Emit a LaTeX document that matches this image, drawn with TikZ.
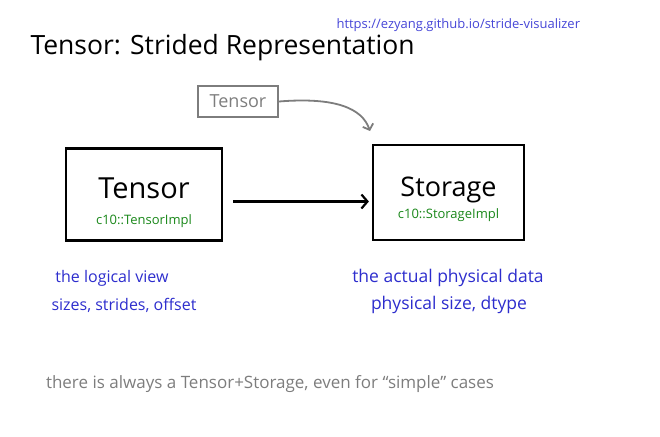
\documentclass[tikz,border=0pt]{standalone}
\usepackage{fontspec}
\setmainfont{Open Sans}
\usetikzlibrary{positioning,arrows.meta}
\definecolor{inkblue}{RGB}{45,45,205}
\definecolor{linkblue}{RGB}{70,70,215}
\definecolor{implgreen}{RGB}{25,135,25}
\definecolor{pencil}{RGB}{125,125,125}
\begin{document}
\begin{tikzpicture}[x=1pt, y=-1pt,
    objbox/.style={draw, line width=2.2pt, minimum width=156pt, minimum height=92pt, align=center},
    note/.style={font=\fontsize{16}{19}\selectfont, text=inkblue, align=center}]
    \useasboundingbox (0,0) rectangle (660,436);

    % Titre et lien
    \node[anchor=west, font=\fontsize{26.5}{30}\selectfont] (title) at (27,48) {Tensor: Strided Representation};
    \node[anchor=west, font=\fontsize{13}{15}\selectfont, text=linkblue] (link) at (333,25) {https://ezyang.github.io/stride-visualizer};

    % Les deux objets
    \node[objbox] (tensor) at (144,194.5) {{\fontsize{29}{32}\selectfont\rule{0pt}{37pt}Tensor}\\[14pt]{\fontsize{13}{15}\selectfont\color{implgreen}c10::TensorImpl}};
    \node[objbox, minimum width=151pt, minimum height=95pt] (storage) at (448.5,192.5) {{\fontsize{27}{30}\selectfont\rule{0pt}{33.5pt}Storage}\\[5pt]{\fontsize{13}{15}\selectfont\color{implgreen}c10::StorageImpl}};

    % Pointeur
    \draw[line width=2.2pt, -{Straight Barb[length=6pt, width=14pt]}, shorten <=10pt, shorten >=3pt]
        ([yshift=-7pt]tensor.east) -- ([yshift=-9pt]storage.west);

    % Petite boite grise
    \node[draw=pencil, line width=1.8pt, text=pencil, font=\fontsize{18}{20}\selectfont, minimum width=80pt, minimum height=31pt, inner sep=1pt] (small) at (238,101.5) {Tensor};
    \coordinate (drop) at (370,131);
    \draw[pencil, line width=1.8pt, -{Straight Barb[length=5pt, width=11pt]}]
        (small.east) .. controls (335,97) and (362,108) .. (drop);

    % Annotations
    \node[note] (tview) at (112,278) {the logical view};
    \node[note] (tmeta) at (124,305) {sizes, strides, offset};
    \node[note, font=\fontsize{17.5}{20}\selectfont] (sview) at (448,278) {the actual physical data};
    \node[note, font=\fontsize{17.5}{20}\selectfont] (smeta) at (449,305) {physical size, dtype};

    \node[font=\fontsize{17}{20}\selectfont, text=pencil] (remark) at (270,384) {there is always a Tensor+Storage, even for ``simple'' cases};
\end{tikzpicture}
\end{document}
